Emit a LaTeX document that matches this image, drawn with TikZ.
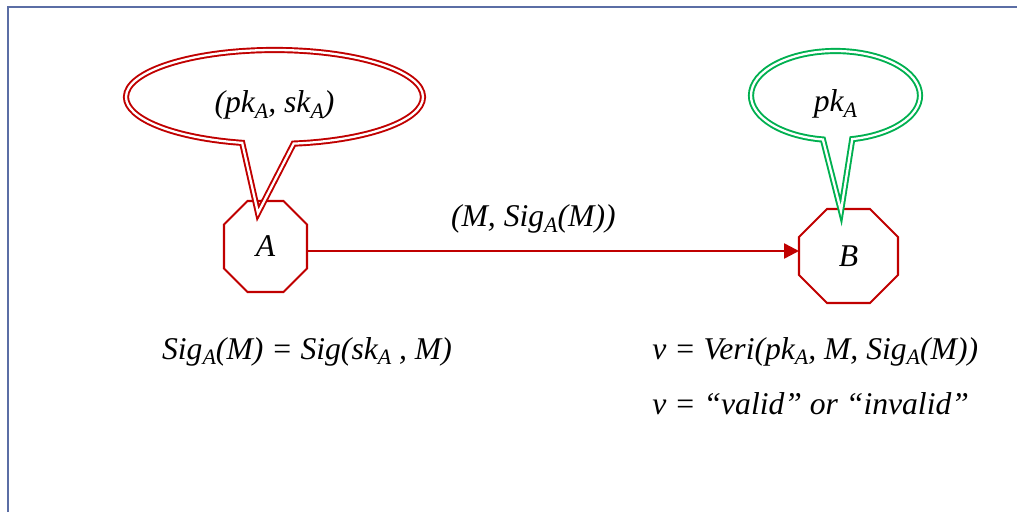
\documentclass[tikz,border=0pt]{standalone}
\usepackage{fontspec}
\setmainfont{Liberation Serif}
\usetikzlibrary{arrows.meta,positioning,shapes.callouts}
\definecolor{sigred}{RGB}{192,0,0}
\definecolor{keygreen}{RGB}{0,176,80}
\definecolor{framegray}{RGB}{91,110,165}
\newcommand{\subA}{\raisebox{-3.4pt}{\fontsize{12.5}{12}\selectfont A}}
\newcommand{\octagonframe}[2]{\draw[sigred,line width=1.2pt] ([xshift=#2]#1.north west) -- ([xshift=-#2]#1.north east) -- ([yshift=-#2]#1.north east) -- ([yshift=#2]#1.south east) -- ([xshift=-#2]#1.south east) -- ([xshift=#2]#1.south west) -- ([yshift=#2]#1.south west) -- ([yshift=-#2]#1.north west) -- cycle;}

\begin{document}
\begin{tikzpicture}[>={Triangle[length=8.5pt,width=8.5pt]}]
\tikzstyle{formula}=[font=\fontsize{18}{22}\selectfont\itshape,inner sep=0pt,text=black]
\tikzstyle{party}=[formula,rectangle,outer sep=0pt]
\tikzstyle{keybubble}=[formula,ellipse callout,double=white,double distance=1.3pt,line width=1.1pt,callout pointer arc=20,text height=20pt,text depth=2pt]
\useasboundingbox (0,0) rectangle (20.34,10.24);
\draw[framegray,line width=1.1pt] (0.16,0) -- (0.16,10.10) -- (20.34,10.10);
\node[party,minimum width=1.66cm,minimum height=1.82cm] (A) at (5.31,5.31) {A};
\node[party,minimum width=1.98cm,minimum height=1.88cm] (B) at (16.97,5.12) {B};
\octagonframe{A}{0.47cm}
\octagonframe{B}{0.56cm}
\draw[->,sigred,line width=1.4pt] ([yshift=-0.09cm]A.east) -- node[formula,pos=0.46,anchor=base,yshift=0.48cm] (msg) {(M, Sig\subA(M))} ([yshift=-0.09cm]A.east -| B.west);
\node[keybubble,draw=sigred,minimum width=5.94cm,minimum height=1.88cm,callout absolute pointer={([xshift=-0.15cm,yshift=-0.24cm]A.north)}] (keysA) at (5.49,8.30) {(pk\subA, sk\subA)};
\node[keybubble,draw=keygreen,minimum width=3.38cm,minimum height=1.78cm,callout absolute pointer={([xshift=-0.15cm,yshift=-0.04cm]B.north)}] (keyB) at (16.71,8.33) {pk\subA};
\node[formula,anchor=base] (sign) at (6.14,3.06) {Sig\subA(M) = Sig(sk\subA{} , M)};
\node[formula,anchor=base west] (veri) at (13.04,3.06) {v = Veri(pk\subA, M, Sig\subA(M))};
\node[formula,below=1.1cm of veri.base west,anchor=base west] (verdict) {v = “valid” or “invalid”};
\end{tikzpicture}
\end{document}
